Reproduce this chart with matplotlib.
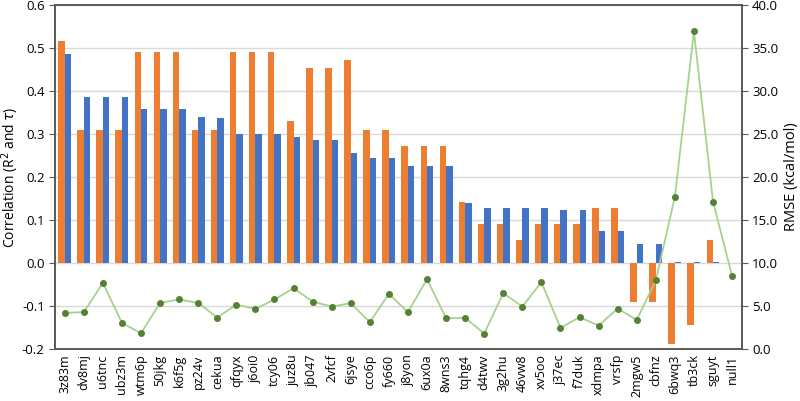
import numpy as np
import matplotlib.pyplot as plt

plt.rcParams['font.family'] = ['Open Sans', 'DejaVu Sans']

# data
names = ["3z83m", "dv8mj", "u6tnc", "ubz3m", "wtm6p", "50jkg", "k6f5g", "pz24v",
         "cekua", "qfqyx", "j6oi0", "tcy06", "juz8u", "jb047", "2vfcf", "6jsye",
         "cco6p", "fy660", "j8yon", "6ux0a", "8wns3", "tqhg4", "d4twv", "3g2hu",
         "46vw8", "xv5oo", "j37ec", "f7duk", "xdmpa", "vrsfp", "2mgw5", "cbfnz",
         "6bwq3", "tb3ck", "sguyt", "null1"]

r2 = [0.516, 0.308, 0.308, 0.308, 0.490, 0.490, 0.490, 0.308,
      0.308, 0.490, 0.490, 0.490, 0.329, 0.453, 0.453, 0.472,
      0.308, 0.308, 0.271, 0.271, 0.271, 0.142, 0.090, 0.090,
      0.054, 0.090, 0.090, 0.090, 0.127, 0.127, -0.092, -0.092,
      -0.188, -0.144, 0.054, 0.0]

tau = [0.486, 0.385, 0.385, 0.385, 0.357, 0.357, 0.357, 0.338,
       0.337, 0.299, 0.299, 0.299, 0.292, 0.286, 0.285, 0.255,
       0.243, 0.243, 0.226, 0.226, 0.226, 0.139, 0.127, 0.127,
       0.127, 0.127, 0.124, 0.124, 0.074, 0.074, 0.0435, 0.0435,
       0.002, 0.002, 0.002, 0.0]

rmse = [4.19, 4.27, 7.67, 3.02, 1.82, 5.35, 5.74, 5.35,
        3.64, 5.15, 4.65, 5.74, 7.05, 5.50, 4.92, 5.31,
        3.10, 6.40, 4.27, 8.10, 3.57, 3.61, 1.78, 6.47,
        4.92, 7.75, 2.44, 3.68, 2.71, 4.69, 3.37, 7.95,
        17.67, 36.9, 17.13, 8.49]

x = np.arange(len(names))
w = 0.34

fig = plt.figure(figsize=(8, 4.01), dpi=100)
ax = fig.add_axes([0.069, 0.130, 0.858, 0.858])

ax.bar(x - w / 2, r2, width=w, color="#ED7D31", zorder=3)
ax.bar(x + w / 2, tau, width=w, color="#4472C4", zorder=3)

ax.set_xlim(-0.5, len(names) - 0.5)
ax.set_ylim(-0.2, 0.6)
ax.set_yticks(np.arange(-0.2, 0.61, 0.1))
ax.set_yticklabels([f"{v:.1f}" for v in np.arange(-0.2, 0.61, 0.1)])
ax.set_xticks(x)
ax.set_xticklabels(names, rotation=90, fontsize=9)
ax.tick_params(axis="x", length=0, pad=4)
ax.tick_params(axis="y", labelsize=9.5, length=4, color="#595959")
ax.grid(axis="y", color="#D9D9D9", linewidth=1, zorder=0)
ax.set_ylabel(r"Correlation (R$^2$ and $\tau$)", fontsize=10, labelpad=1)
for s in ax.spines.values():
    s.set_color("#595959")
    s.set_linewidth(1.2)

ax2 = ax.twinx()
ax2.plot(x, rmse, color="#A9D18E", linewidth=1.3, marker="o", markersize=4,
         markerfacecolor="#548235", markeredgecolor="#548235", zorder=4)
ax2.set_ylim(0, 40)
ax2.set_yticks(np.arange(0, 41, 5))
ax2.set_yticklabels([f"{v:.1f}" for v in np.arange(0, 41, 5)])
ax2.tick_params(axis="y", labelsize=9.5, length=4, color="#595959")
ax2.set_ylabel("RMSE (kcal/mol)", fontsize=10.5)
for s in ax2.spines.values():
    s.set_color("#595959")
    s.set_linewidth(1.2)

fig.savefig("out.png", dpi=100)
